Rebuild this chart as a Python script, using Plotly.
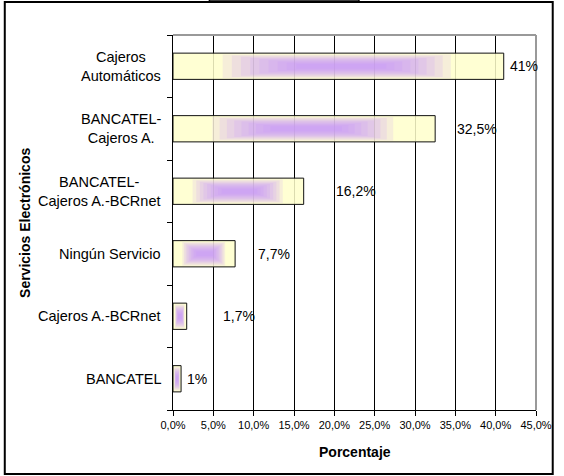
import plotly.graph_objects as go

# Data (bottom to top)
categories = ["BANCATEL", "Cajeros A.-BCRnet", "Ningún Servicio",
              "BANCATEL-Cajeros A.-BCRnet", "BANCATEL-Cajeros A.", "Cajeros Automáticos"]
category_labels = ["BANCATEL", "Cajeros A.-BCRnet", "Ningún Servicio",
                   "BANCATEL-<br>Cajeros A.-BCRnet", "BANCATEL-<br>Cajeros A.", "Cajeros<br>Automáticos"]
values = [1.0, 1.7, 7.7, 16.2, 32.5, 41.0]
value_labels = ["1%", "1,7%", "7,7%", "16,2%", "32,5%", "41%"]
x_tickvals = [0, 5, 10, 15, 20, 25, 30, 35, 40, 45]
x_ticktext = ["0,0%", "5,0%", "10,0%", "15,0%", "20,0%", "25,0%", "30,0%", "35,0%", "40,0%", "45,0%"]

# style: label offsets in px (as placed in original)
label_shift = [4, 34, 21, 30, 20, 4]
BAR_W = 0.42

PAGE_W, PAGE_H = 564, 476
EXTRA = 24                                   # off-screen space below the chart
W, H = PAGE_W, PAGE_H + EXTRA
PL, PR, PT, PB = 173, 542, 35, 410          # plot area in page pixels
L, R, T, B = PL, PAGE_W - PR, PT, H - PB
pw, ph = W - L - R, H - T - B

def px_x(p):
    return (p - L) / pw

def px_y(p):
    return (PB - p) / ph

FONT = "Liberation Sans, Arial, sans-serif"

fig = go.Figure()
fig.add_trace(go.Bar(
    y=categories, x=values, orientation="h", width=BAR_W,
    marker=dict(color="rgba(255,255,204,0.86)", line=dict(color="#111", width=1)),
    hoverinfo="x+y", showlegend=False))
# gradient imitation: nested translucent purple layers
n_layers = 9
for k in range(n_layers):
    f = k / n_layers
    start = 0.15 + 0.25 * f
    end = 0.84 - 0.22 * f
    fig.add_trace(go.Bar(
        y=categories, x=[v * (end - start) for v in values], base=[v * start for v in values],
        orientation="h", width=0.40 * (1 - f) * 0.85 + 0.04,
        marker=dict(color="rgba(195,140,255,0.15)", line=dict(width=0)),
        hoverinfo="skip", showlegend=False))

annotations = []
for c, lab in zip(categories, category_labels):
    annotations.append(dict(x=0, xref="paper", y=c, yref="y", text=lab,
                            xanchor="right", yanchor="middle", align="center",
                            xshift=-10, showarrow=False,
                            font=dict(family=FONT, size=14.5, color="#000")))
for c, v, t, s in zip(categories, values, value_labels, label_shift):
    annotations.append(dict(x=v, xref="x", y=c, yref="y", text=t,
                            xanchor="left", yanchor="middle", xshift=s,
                            showarrow=False,
                            font=dict(family=FONT, size=14, color="#000")))
annotations.append(dict(x=px_x(22), xref="paper", y=0.5, yref="paper",
                        text="<b>Servicios Electrónicos</b>", textangle=-90,
                        xanchor="center", yanchor="middle", showarrow=False,
                        font=dict(family=FONT, size=14, color="#000")))
annotations.append(dict(x=0.5, xref="paper", y=px_y(452), yref="paper",
                        text="<b>Porcentaje</b>", xanchor="center", yanchor="middle",
                        showarrow=False, font=dict(family=FONT, size=14, color="#000")))

shapes = [
    dict(type="line", xref="paper", yref="paper", x0=0, x1=1, y0=1, y1=1,
         line=dict(color="#999", width=2), layer="above"),
    dict(type="line", xref="paper", yref="paper", x0=1, x1=1, y0=0, y1=1,
         line=dict(color="#999", width=2), layer="above"),
    dict(type="rect", xref="paper", yref="paper",
         x0=px_x(2), x1=px_x(559), y0=px_y(474), y1=px_y(2),
         line=dict(color="#000", width=2), layer="above"),
    dict(type="rect", xref="paper", yref="paper",
         x0=px_x(210), x1=px_x(362), y0=px_y(2), y1=px_y(0),
         line=dict(color="#000", width=1.5), layer="above"),
]

fig.update_layout(
    width=W, height=H, barmode="overlay",
    margin=dict(l=L, r=R, t=T, b=B, pad=0),
    paper_bgcolor="white", plot_bgcolor="white",
    font=dict(family=FONT, color="#000"),
    annotations=annotations, shapes=shapes, showlegend=False,
    xaxis=dict(range=[0, 45], tickmode="array", tickvals=x_tickvals, ticktext=x_ticktext,
               showgrid=True, gridcolor="#000", gridwidth=1,
               showline=True, linecolor="#000", linewidth=1,
               ticks="outside", ticklen=5, tickcolor="#000",
               tickfont=dict(family=FONT, size=11, color="#000"),
               zeroline=False, fixedrange=True),
    yaxis=dict(type="category", categoryorder="array", categoryarray=categories,
               range=[-0.5, len(categories) - 0.5], showticklabels=False, tickson="boundaries",
               ticks="outside", ticklen=5, tickcolor="#000",
               showgrid=False, showline=True, linecolor="#000", linewidth=1,
               zeroline=False, fixedrange=True),
)

fig.write_html("out.html", config={"displayModeBar": False},
               post_script="document.body.style.margin='0';")
